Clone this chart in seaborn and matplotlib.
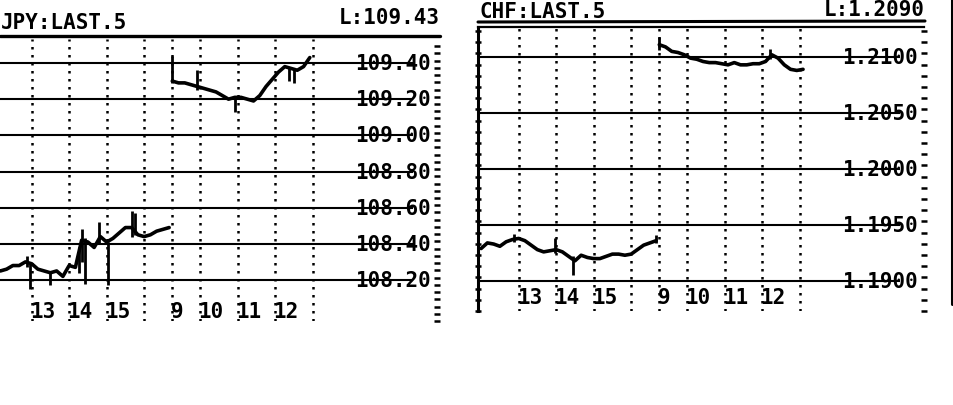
import numpy as np
import pandas as pd
import matplotlib.pyplot as plt
import matplotlib.transforms as mtransforms
from matplotlib.lines import Line2D
import seaborn as sns

W, H = 954, 406

# x axis = 5-minute bars from the left edge of a panel, one sample every 2 bars
hour_bars = [13, 25, 37, 49, 58, 67, 79, 91, 103]
hour_labels = ["13", "14", "15", "", "9", "10", "11", "12", ""]
prev_start, today_start = 1, 58

jpy_title, jpy_last = "JPY:LAST.5", "L:109.43"
jpy_levels = [108.20, 108.40, 108.60, 108.80, 109.00, 109.20, 109.40]
jpy_prev = [108.26, 108.25, 108.26, 108.28, 108.28, 108.30, 108.29, 108.26, 108.25, 108.24,
            108.25, 108.22, 108.28, 108.27, 108.42, 108.41, 108.38, 108.44, 108.41, 108.43,
            108.46, 108.49, 108.49, 108.45, 108.44, 108.45, 108.47, 108.48, 108.49]
jpy_today = [109.30, 109.29, 109.29, 109.28, 109.27, 109.26, 109.25, 109.24, 109.22, 109.20,
             109.21, 109.21, 109.20, 109.19, 109.22, 109.27, 109.31, 109.35, 109.38, 109.37,
             109.36, 109.38, 109.43]
jpy_wick_bars = [11.5, 12.5, 19, 28, 29, 30, 34.5, 37.5, 45, 46, 58, 66, 78, 95.5, 97]
jpy_wick_lo = [108.27, 108.15, 108.17, 108.24, 108.30, 108.18, 108.40, 108.17, 108.44, 108.45,
               109.29, 109.25, 109.13, 109.30, 109.29]
jpy_wick_hi = [108.33, 108.29, 108.25, 108.38, 108.48, 108.43, 108.52, 108.41, 108.58, 108.57,
               109.44, 109.36, 109.22, 109.38, 109.37]

chf_title, chf_last = "CHF:LAST.5", "L:1.2090"
chf_levels = [1.1900, 1.1950, 1.2000, 1.2050, 1.2100]
chf_prev = [1.1929, 1.1934, 1.1933, 1.1931, 1.1935, 1.1937, 1.1938, 1.1936, 1.1932, 1.1928,
            1.1926, 1.1927, 1.1928, 1.1926, 1.1922, 1.1918, 1.1923, 1.1921, 1.1920, 1.1920,
            1.1922, 1.1924, 1.1924, 1.1923, 1.1924, 1.1928, 1.1932, 1.1934, 1.1936]
chf_today = [1.2111, 1.2109, 1.2105, 1.2104, 1.2102, 1.2099, 1.2098, 1.2096, 1.2095, 1.2095,
             1.2094, 1.2093, 1.2095, 1.2093, 1.2093, 1.2094, 1.2094, 1.2096, 1.2102, 1.2099,
             1.2093, 1.2089, 1.2088, 1.2089]
chf_wick_bars = [11.5, 24.5, 30.5, 57, 58, 93.5]
chf_wick_lo = [1.1935, 1.1925, 1.1905, 1.1934, 1.2106, 1.2098]
chf_wick_hi = [1.1942, 1.1938, 1.1922, 1.1941, 1.2118, 1.2107]

sns.set_theme(style="white")
plt.rcParams['font.family'] = ['DejaVu Sans Mono', 'DejaVu Sans']
plt.rcParams['font.weight'] = 'bold'
plt.rcParams['text.color'] = 'black'

fig = plt.figure(figsize=(W / 100, H / 100), dpi=100)
fig.patch.set_facecolor('white')


def px_axes(x0, x1, y0, y1):
    return fig.add_axes([x0 / W, 1 - y1 / H, (x1 - x0) / W, (y1 - y0) / H])


def fig_line(x0, y0, x1, y1, lw):
    fig.add_artist(Line2D([x0 / W, x1 / W], [1 - y0 / H, 1 - y1 / H], color='black', lw=lw,
                          transform=fig.transFigure))


def draw_panel(ax, prev, today, wb, wlo, whi, levels, fmt, ylim, tick_step, lab_y, box):
    df = pd.concat([
        pd.DataFrame({"bar": prev_start + 2 * np.arange(len(prev)), "price": prev, "day": "prev"}),
        pd.DataFrame({"bar": today_start + 2 * np.arange(len(today)), "price": today, "day": "today"}),
    ])
    sns.lineplot(data=df, x="bar", y="price", units="day", estimator=None,
                 color="black", lw=2.6, ax=ax)
    ax.vlines(wb, wlo, whi, color="black", lw=2.0)
    ax.hlines(levels, 0, 135, color="black", lw=1.5)
    for b in hour_bars:
        ax.axvline(b, color="black", lw=1.8, ls=(0, (1, 2.2)))
    lab_tr = mtransforms.blended_transform_factory(ax.transData, ax.transAxes)
    for b, lab in zip(hour_bars, hour_labels):
        ax.text(b - 0.6, lab_y, lab, transform=lab_tr, ha="left", va="center",
                fontsize=15, fontweight="bold", color="black")
    for v in levels:
        ax.text(128.6, v, fmt.format(v), ha="center", va="center", fontsize=15,
                fontweight="bold", color="black")
    ax.set_xlim(0, 142.7)
    ax.set_ylim(*ylim)
    ax.set_xlabel("")
    ax.set_ylabel("")
    ax.set_xticks([])
    ax.set_yticks(np.arange(ylim[0], ylim[1], tick_step))
    ax.set_yticklabels([])
    ax.tick_params(axis="y", left=box, right=True, direction="inout", length=5, width=1.8,
                   color="black")
    for s in ["top", "bottom", "left", "right"]:
        ax.spines[s].set_visible(False)
    if box:
        for s, w in [("left", 2.2), ("top", 1.6)]:
            ax.spines[s].set_visible(True)
            ax.spines[s].set_linewidth(w)
            ax.spines[s].set_color("black")
    ax.patch.set_alpha(0)


# left panel (JPY) runs off the left edge of the page
ax1 = px_axes(-9, 437, 40, 322)
draw_panel(ax1, jpy_prev, jpy_today, jpy_wick_bars, jpy_wick_lo, jpy_wick_hi, jpy_levels,
           "{:.2f}", (107.9733, 109.5327), 0.04, 0.035, False)

ax2 = px_axes(478, 924, 28, 312)
draw_panel(ax2, chf_prev, chf_today, chf_wick_bars, chf_wick_lo, chf_wick_hi, chf_levels,
           "{:.4f}", (1.187321, 1.212679), 0.001, 0.049, True)

# headers
fig.text(1 / W, 1 - 23 / H, jpy_title, ha="left", va="center", fontsize=15, fontweight="bold")
fig.text(440 / W, 1 - 18 / H, jpy_last, ha="right", va="center", fontsize=15, fontweight="bold")
fig.text(480 / W, 1 - 12 / H, chf_title, ha="left", va="center", fontsize=15, fontweight="bold")
fig.text(925 / W, 1 - 10 / H, chf_last, ha="right", va="center", fontsize=15, fontweight="bold")
fig_line(0, 37, 440, 37, 2.4)
fig_line(478, 23, 925, 22, 2.2)
fig_line(952, 0, 952, 305, 2.2)

fig.savefig("out.png", dpi=100, facecolor="white")
